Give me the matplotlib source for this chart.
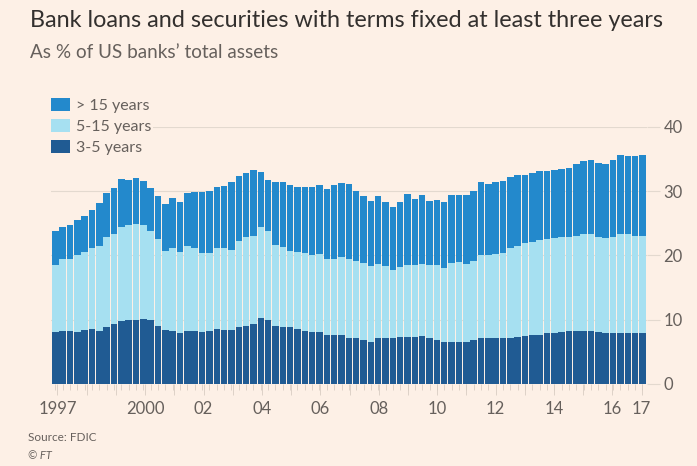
import matplotlib
matplotlib.use('Agg')
import matplotlib.pyplot as plt
import numpy as np

# quarterly, 1997 Q1 .. 2017 Q1, % of US banks' total assets
three_five = [8.1, 8.3, 8.2, 8.1, 8.4, 8.5, 8.2, 8.9, 9.3, 9.8, 9.9, 10.0, 10.1, 9.9, 9.1, 8.4,
              8.2, 8.0, 8.2, 8.2, 8.1, 8.2, 8.6, 8.4, 8.4, 8.8, 9.1, 9.4, 10.2, 9.9, 9.1, 8.8,
              8.8, 8.5, 8.2, 8.1, 8.1, 7.7, 7.6, 7.6, 7.2, 7.1, 6.8, 6.6, 7.1, 7.1, 7.1, 7.3,
              7.3, 7.3, 7.5, 7.2, 6.9, 6.6, 6.6, 6.6, 6.6, 6.9, 7.2, 7.2, 7.2, 7.1, 7.2, 7.3,
              7.4, 7.6, 7.7, 7.9, 8.0, 8.1, 8.2, 8.3, 8.3, 8.3, 8.1, 8.0, 8.0, 8.0, 7.9, 7.9,
              7.9]
five_fifteen = [10.4, 11.1, 11.3, 11.9, 12.2, 12.6, 13.2, 14.0, 14.1, 14.7, 14.8, 14.9, 14.7, 13.9, 13.4, 12.3,
                12.9, 12.5, 13.2, 13.0, 12.3, 12.2, 12.5, 12.8, 12.5, 13.5, 13.7, 13.6, 14.3, 13.9, 12.6, 12.5,
                11.9, 12.0, 12.2, 11.9, 12.1, 11.7, 11.8, 12.1, 12.3, 12.1, 12.0, 11.8, 11.6, 11.3, 10.6, 10.9,
                11.2, 11.2, 11.1, 11.3, 11.6, 11.5, 12.2, 12.4, 12.1, 12.3, 12.9, 12.8, 13.1, 13.3, 13.9, 14.2,
                14.5, 14.5, 14.7, 14.7, 14.7, 14.7, 14.6, 14.8, 15.0, 15.0, 14.8, 14.7, 14.9, 15.3, 15.4, 15.2,
                15.1]
over_fifteen = [5.3, 5.1, 5.2, 5.6, 5.6, 6.0, 6.7, 6.9, 7.1, 7.4, 7.1, 7.2, 6.8, 6.7, 6.8, 7.3,
                7.8, 7.9, 8.3, 8.7, 9.5, 9.7, 9.6, 9.6, 10.5, 10.1, 10.0, 10.3, 8.5, 7.9, 9.8, 10.2,
                10.2, 10.1, 10.2, 10.7, 10.7, 11.0, 11.6, 11.6, 11.7, 10.8, 10.4, 10.1, 10.6, 9.9, 9.8, 10.2,
                11.0, 10.3, 10.8, 10.0, 10.1, 10.3, 10.6, 10.4, 10.7, 10.9, 11.4, 11.2, 11.1, 11.2, 11.1, 11.0,
                10.7, 10.7, 10.7, 10.6, 10.6, 10.6, 10.8, 11.1, 11.4, 11.6, 11.5, 11.6, 11.9, 12.3, 12.2, 12.4,
                12.6]
first_year = 1997
label_years = [1997, 2000, 2002, 2004, 2006, 2008, 2010, 2012, 2014, 2016, 2017]
yticks = [0, 10, 20, 30, 40]

bg = '#fdf0e6'
c_dark = '#205b93'
c_light = '#a6e0f1'
c_mid = '#2389cc'
grey = '#66605c'
gridc = '#e3d9cf'

plt.rcParams['font.family'] = ['Lato', 'DejaVu Sans']

fig = plt.figure(figsize=(6.97, 4.66), dpi=100, facecolor=bg)
ax = fig.add_axes([0.073, 0.176, 0.855, 0.5515], facecolor=bg)

x = np.arange(len(three_five))
a = np.array(three_five)
b = np.array(five_fifteen)
c = np.array(over_fifteen)
w = 0.88
ax.bar(x, a, w, color=c_dark, label='3-5 years', zorder=3)
ax.bar(x, b, w, bottom=a, color=c_light, label='5-15 years', zorder=3)
ax.bar(x, c, w, bottom=a + b, color=c_mid, label='> 15 years', zorder=3)

ax.set_xlim(-0.6, len(x) - 0.4)
ax.set_ylim(0, 40)

# y axis on the right
ax.yaxis.tick_right()
ax.set_yticks(yticks)
ax.set_yticklabels([str(v) for v in yticks])
ax.tick_params(axis='y', length=9, width=0.8, color=gridc, labelcolor=grey,
               labelsize=12, pad=3)
ax.grid(axis='y', color=gridc, linewidth=0.8, zorder=0)

# x axis: year ticks
years = list(range(first_year, 2018))
ax.set_xticks([(yr - first_year) * 4 + 0.3 - 0.02 * (yr - first_year) for yr in years])
labs = []
for yr in years:
    if yr in label_years:
        labs.append(str(yr) if yr in (1997, 2000) else '%02d' % (yr % 100))
    else:
        labs.append('')
ax.set_xticklabels(labs)
ax.set_xticks(x, minor=True)
ax.tick_params(axis='x', which='major', length=8, width=0.6, color='#d8cdc3',
               labelcolor=grey, labelsize=12, pad=4)
ax.tick_params(axis='x', which='minor', length=4, width=0.6, color='#d8cdc3')

for s in ax.spines.values():
    s.set_visible(False)

h, l = ax.get_legend_handles_labels()
leg = ax.legend(h[::-1], l[::-1], loc='upper left', bbox_to_anchor=(-0.002, 1.118),
                frameon=True, facecolor=bg, edgecolor='none', framealpha=1,
                fontsize=11.5, handlelength=1.2, handleheight=0.85, handletextpad=0.35,
                labelspacing=0.38, borderpad=0.1, borderaxespad=0)
for t in leg.get_texts():
    t.set_color(grey)

fig.text(0.043, 0.957, 'Bank loans and securities with terms fixed at least three years',
         fontsize=16.8, color='#33302e', va='center')
fig.text(0.043, 0.888, 'As % of US banks\u2019 total assets', fontsize=13.6, color=grey,
         va='center')
fig.text(0.04, 0.062, 'Source: FDIC', fontsize=8.5, color=grey, va='center')
fig.text(0.04, 0.022, '\u00a9 FT', fontsize=8, color=grey, va='center', style='italic')

plt.savefig('out.png', dpi=100, facecolor=bg)
